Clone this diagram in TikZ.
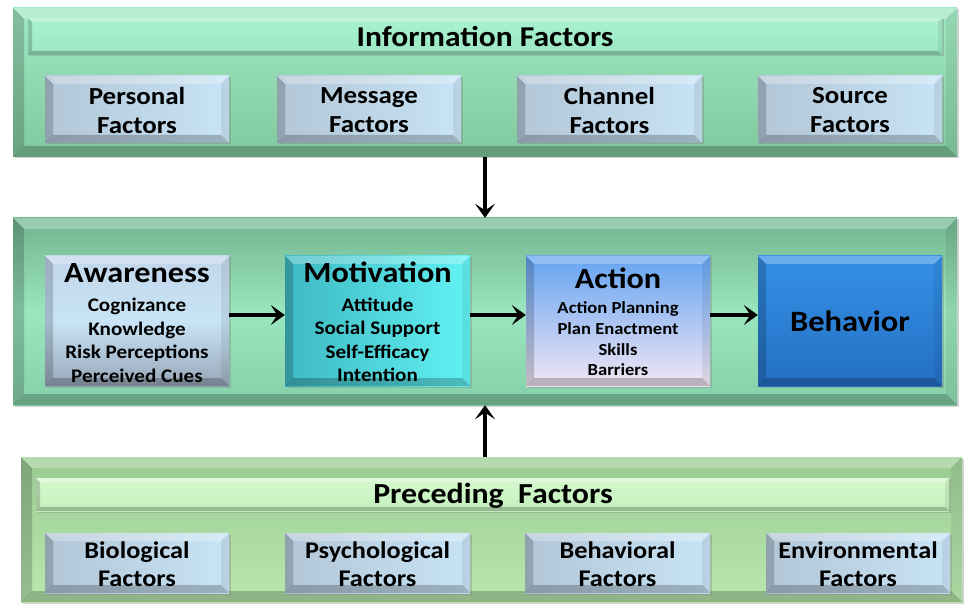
\documentclass[tikz,border=0pt]{standalone}
\usepackage{fontspec}
\setmainfont{Carlito}[FakeStretch=1.1]
\usetikzlibrary{arrows.meta,fit,shadows,calc}
\definecolor{pnlA}{HTML}{A0E8C2}
\definecolor{pnlB}{HTML}{80C89E}
\definecolor{midA}{HTML}{72B48E}
\definecolor{midB}{HTML}{9AE6BE}
\definecolor{midC}{HTML}{86D0A8}
\definecolor{barMint}{HTML}{AAF2D0}
\definecolor{barMintB}{HTML}{9AE8C2}
\definecolor{prA}{HTML}{9ACB92}
\definecolor{prB}{HTML}{B8E8AE}
\definecolor{barLime}{HTML}{D4F8CE}
\definecolor{barLimeB}{HTML}{C4F0BC}
\definecolor{subL}{HTML}{B2C6D6}
\definecolor{subR}{HTML}{C8E4F6}
\definecolor{awA}{HTML}{C2D6EA}
\definecolor{awB}{HTML}{97A7B8}
\definecolor{moA}{HTML}{62F2F4}
\definecolor{moB}{HTML}{3EB8C2}
\definecolor{acA}{HTML}{64A4F2}
\definecolor{acB}{HTML}{F2E6F4}
\definecolor{beA}{HTML}{3490E6}
\definecolor{beB}{HTML}{2470C4}
\newcommand\bevelfx[1]{%
  \coordinate (pA) at (path picture bounding box.north west);
  \coordinate (pB) at (path picture bounding box.north east);
  \coordinate (pC) at (path picture bounding box.south east);
  \coordinate (pD) at (path picture bounding box.south west);
  \fill[white,opacity=.28] (pA) -- (pB) -- ([shift={(-#1,-#1)}]pB) -- ([shift={(#1,-#1)}]pA) -- cycle;
  \fill[black,opacity=.18] (pA) -- ([shift={(#1,-#1)}]pA) -- ([shift={(#1,#1)}]pD) -- (pD) -- cycle;
  \fill[black,opacity=.22] (pD) -- ([shift={(#1,#1)}]pD) -- ([shift={(-#1,#1)}]pC) -- (pC) -- cycle;
  \fill[black,opacity=.07] (pC) -- ([shift={(-#1,#1)}]pC) -- ([shift={(-#1,-#1)}]pB) -- (pB) -- cycle;
}
\tikzset{
  base/.style={inner sep=0pt, draw=none, path picture={\bevelfx{#1}},
    drop shadow={opacity=.35, shadow xshift=1.5pt, shadow yshift=-1.5pt}},
  panelbox/.style={base=11pt, top color=pnlA, bottom color=pnlB},
  midpanel/.style={base=11pt, top color=midA, bottom color=midC, middle color=midB},
  precpanel/.style={base=11pt, top color=prA, bottom color=prB},
  mintbar/.style={base=4pt, top color=barMint, bottom color=barMintB},
  limebar/.style={base=4pt, top color=barLime, bottom color=barLimeB},
  subbox/.style={base=8pt, left color=subL, right color=subR},
  stagebox/.style={base=8pt},
  bartxt/.style={font=\bfseries\fontsize{28.7}{32}\selectfont, inner sep=0pt},
  subtxt/.style={font=\bfseries\fontsize{24.5}{29}\selectfont, align=center, inner sep=0pt},
  headtxt/.style={font=\bfseries\fontsize{29.3}{32}\selectfont, anchor=base, inner sep=0pt},
  itemtxt/.style={font=\bfseries\fontsize{19.2}{23.5}\selectfont, align=center, inner sep=0pt},
  acttxt/.style={font=\bfseries\fontsize{16.9}{20.7}\selectfont, align=center, inner sep=0pt},
  arr/.style={line width=3.4pt, -{Stealth[length=14pt,inset=6.5pt,width=20pt]}},
}
\begin{document}
\begin{tikzpicture}[x=1pt,y=-1pt]
\useasboundingbox[fill=white] (0,0) rectangle (964,604);
% top panel
\node[fit={(13,8) (957,157)}, panelbox] (info) {};
\node[fit={(28,18) (942,55)}, mintbar] (infobar) {};
\node[bartxt] (infot) at (485,37) {Information Factors};
\node[fit={(45,76) (229,143)}, subbox] (pers) {};
\node[fit={(277,76) (461,143)}, subbox] (mess) {};
\node[fit={(517,76) (702,143)}, subbox] (chan) {};
\node[fit={(758,76) (942,143)}, subbox] (sour) {};
\node[subtxt] (perst) at ([yshift=-1pt]pers.center) {Personal\\Factors};
\node[subtxt] (messt) at ([yshift=-1pt]mess.center) {Message\\Factors};
\node[subtxt] (chant) at ([yshift=-1pt]chan.center) {Channel\\Factors};
\node[subtxt] (sourt) at ([yshift=-1pt]sour.center) {Source\\Factors};
% middle panel
\node[fit={(13,218) (957,405)}, midpanel] (mid) {};
\node[fit={(45,256) (229,386)}, stagebox, top color=awA, bottom color=awB, middle color=subR] (aw) {};
\node[fit={(285,256) (470,386)}, stagebox, left color=moB, right color=moA] (mot) {};
\node[fit={(526,256) (710,386)}, stagebox, top color=acA, bottom color=acB] (act) {};
\node[fit={(758,256) (942,386)}, stagebox, top color=beA, bottom color=beB] (beh) {};
\node[headtxt] (awt) at (137,283) {Awareness};
\node[itemtxt] (awi) at (137,340.5) {Cognizance\\Knowledge\\Risk Perceptions\\Perceived Cues};
\node[headtxt] (mott) at (377.5,283) {Motivation};
\node[itemtxt] (moti) at (377.5,340) {Attitude\\Social Support\\Self-Efficacy\\Intention};
\node[headtxt] (actt) at (618,288) {Action};
\node[acttxt] (acti) at (618,339) {Action Planning\\Plan Enactment\\Skills\\Barriers};
\node[font=\bfseries\fontsize{29.5}{32}\selectfont, inner sep=0pt] (beht) at (850,321) {Behavior};
% bottom panel
\node[fit={(21,457) (962,602)}, precpanel] (prec) {};
\node[fit={(36,478) (949,511)}, limebar] (precbar) {};
\node[bartxt, font=\bfseries\fontsize{29}{32}\selectfont] (prect) at (493,496) {Preceding\ \ Factors};
\node[fit={(45,533) (229,593)}, subbox] (bio) {};
\node[fit={(285,533) (470,593)}, subbox] (psy) {};
\node[fit={(525,533) (710,593)}, subbox] (behf) {};
\node[fit={(766,533) (950,593)}, subbox] (env) {};
\node[subtxt, font=\bfseries\fontsize{23.9}{28}\selectfont] (biot) at ([yshift=-1pt]bio.center) {Biological\\Factors};
\node[subtxt, font=\bfseries\fontsize{23.9}{28}\selectfont] (psyt) at ([yshift=-1pt]psy.center) {Psychological\\Factors};
\node[subtxt, font=\bfseries\fontsize{23.9}{28}\selectfont] (behft) at ([yshift=-1pt]behf.center) {Behavioral\\Factors};
\node[subtxt, font=\bfseries\fontsize{23.9}{28}\selectfont] (envt) at ([yshift=-1pt]env.center) {Environmental\\Factors};
% arrows
\coordinate (row) at (0,315);
\draw[arr] (info.south) -- (mid.north);
\draw[arr] (prec.north -| mid.south) -- (mid.south);
\draw[arr] (aw.east |- row) -- (mot.west |- row);
\draw[arr] (mot.east |- row) -- (act.west |- row);
\draw[arr] (act.east |- row) -- (beh.west |- row);
\end{tikzpicture}
\end{document}
